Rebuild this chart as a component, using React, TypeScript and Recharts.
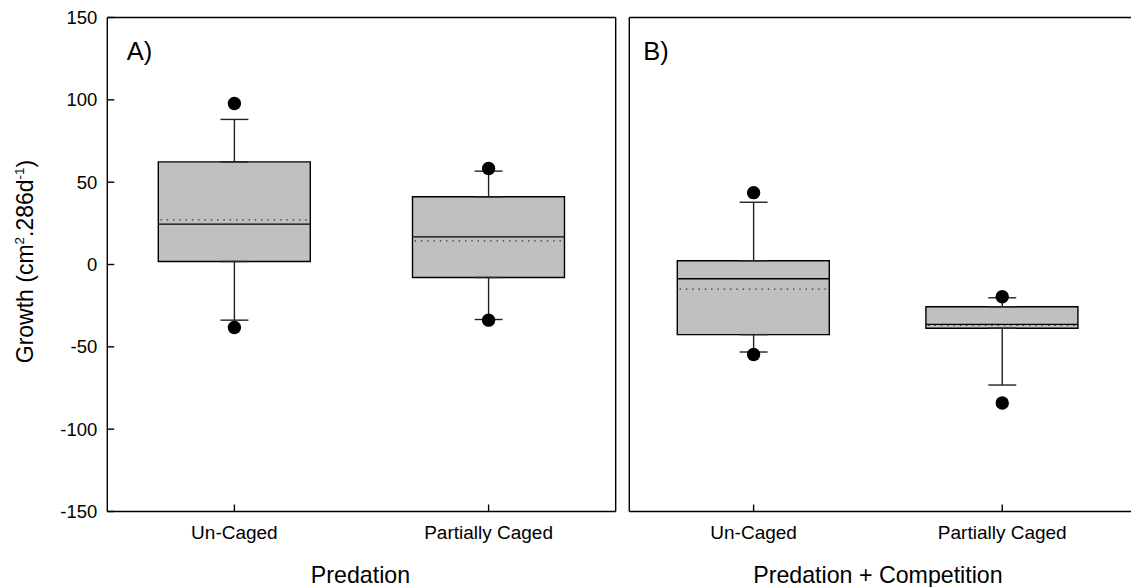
import React from 'react';
import { ComposedChart, Bar, Scatter, ErrorBar, XAxis, YAxis, Label } from 'recharts';

const FONT = '"Liberation Sans", Arial, Helvetica, sans-serif';

// categories
const groups = ['Un-Caged', 'Partially Caged'];
const positions = [1, 2];

// Panel A: Predation (left axis units)
const predQ1 = [1.8, -7.9];
const predQ3 = [62.3, 41.1];
const predMedian = [24.5, 16.8];
const predMean = [27.1, 14.3];
const predWhiskerLow = [-33.8, -33.4];
const predWhiskerHigh = [88.1, 56.7];
const predOutlierLow = [-38.3, -33.8];
const predOutlierHigh = [97.8, 58.3];

// Panel B: Predation + Competition (own unlabeled axis)
const compQ1 = [-49.7, -45.2];
const compQ3 = [2.7, -29.9];
const compMedian = [-10.1, -42.4];
const compMean = [-17.4, -43.1];
const compWhiskerLow = [-62.0, -85.4];
const compWhiskerHigh = [44.1, -23.6];
const compOutlierLow = [-63.8, -98.1];
const compOutlierHigh = [50.9, -22.8];

// tick values
const leftTicks = [-150, -100, -50, 0, 50, 100, 150];
const rightTicks = [-125, -75, -25, 25, 75, 125];

const BOX_W = 152;
const HALF = BOX_W / 2;

function buildRows(q1: number[], q3: number[], med: number[], mean: number[], wl: number[], wh: number[], ol: number[], oh: number[]) {
  return groups.map((g, i) => ({
    name: g,
    pos: positions[i],
    box: [q1[i], q3[i]],
    q1: q1[i],
    q3: q3[i],
    median: med[i],
    mean: mean[i],
    upperErr: [0, wh[i] - q3[i]],
    lowerErr: [q1[i] - wl[i], 0],
    outLow: ol[i],
    outHigh: oh[i],
  }));
}

const predRows = buildRows(predQ1, predQ3, predMedian, predMean, predWhiskerLow, predWhiskerHigh, predOutlierLow, predOutlierHigh);
const compRows = buildRows(compQ1, compQ3, compMedian, compMean, compWhiskerLow, compWhiskerHigh, compOutlierLow, compOutlierHigh);

const emptyShape = () => <g />;
const medianShape = (p: any) => (
  <line x1={p.cx - HALF} x2={p.cx + HALF} y1={p.cy} y2={p.cy} stroke="#000" strokeWidth={1.4} />
);
const meanShape = (p: any) => (
  <line x1={p.cx - HALF + 2} x2={p.cx + HALF} y1={p.cy} y2={p.cy} stroke="#333" strokeWidth={1.3} strokeDasharray="1.4 4.9" />
);
const dotShape = (p: any) => <circle cx={p.cx} cy={p.cy} r={6.7} fill="#000" />;

const yTickText = { fill: '#000', fontSize: 18.5, fontFamily: FONT };
const xTickText = { fill: '#000', fontSize: 19, fontFamily: FONT };

function Panel(props: any) {
  const { rows, width, height, leftW, rightW, topH, bottomH, xDomain, yDomain, yTicks, showYLabels, title, titleDx, letter, letterDx, yLabel } = props;
  const axisStroke = { stroke: '#000', strokeWidth: 1.4 };
  return (
    <ComposedChart width={width} height={height} data={rows} margin={{ top: 0, right: 0, bottom: 0, left: 0 }} style={{ fontFamily: FONT }}>
      <XAxis
        dataKey="pos"
        type="number"
        domain={xDomain}
        ticks={positions}
        interval={0}
        allowDataOverflow
        height={bottomH}
        tickSize={-7}
        tickMargin={21}
        tickFormatter={(v: number) => groups[positions.indexOf(v)] ?? ''}
        tick={xTickText}
        axisLine={axisStroke}
        tickLine={axisStroke}
      >
        <Label
          content={(lp: any) => {
            const vb = lp.viewBox;
            return (
              <text x={vb.x + vb.width / 2 + titleDx} y={vb.y + vb.height - 4} textAnchor="middle" fontSize={23.2} fill="#000" fontFamily={FONT}>
                {title}
              </text>
            );
          }}
        />
      </XAxis>
      <XAxis
        xAxisId="top"
        dataKey="pos"
        type="number"
        orientation="top"
        domain={xDomain}
        ticks={positions}
        interval={0}
        allowDataOverflow
        height={topH}
        tickSize={-7}
        tick={false}
        axisLine={axisStroke}
        tickLine={axisStroke}
      >
        <Label
          content={(lp: any) => {
            const vb = lp.viewBox;
            return (
              <text x={vb.x + letterDx} y={vb.y + vb.height + 42.5} fontSize={25.5} fill="#000" fontFamily={FONT}>
                {letter}
              </text>
            );
          }}
        />
      </XAxis>
      <YAxis
        type="number"
        domain={yDomain}
        ticks={yTicks}
        interval={0}
        allowDataOverflow
        width={leftW}
        tickSize={-7}
        tickMargin={17}
        tick={showYLabels ? yTickText : false}
        axisLine={axisStroke}
        tickLine={axisStroke}
      >
        {yLabel ? (
          <Label
            content={(lp: any) => {
              const vb = lp.viewBox;
              const cx = vb.x + 33;
              const cy = vb.y + vb.height / 2 - 3;
              return (
                <text x={cx} y={cy} transform={`rotate(-90 ${cx} ${cy})`} textAnchor="middle" fontSize={23} fill="#000" fontFamily={FONT}>
                  Growth (cm
                  <tspan dy={-9} fontSize={13.5}>2</tspan>
                  <tspan dy={9}>.286d</tspan>
                  <tspan dy={-9} fontSize={13.5}>-1</tspan>
                  <tspan dy={9}>)</tspan>
                </text>
              );
            }}
          />
        ) : null}
      </YAxis>
      <YAxis
        yAxisId="right"
        orientation="right"
        type="number"
        domain={yDomain}
        ticks={yTicks}
        interval={0}
        allowDataOverflow
        width={rightW}
        tickSize={-7}
        tick={false}
        axisLine={axisStroke}
        tickLine={axisStroke}
      />
      <Scatter dataKey="q3" shape={emptyShape} isAnimationActive={false}>
        <ErrorBar dataKey="upperErr" direction="y" width={14} stroke="#222" strokeWidth={1.4} />
      </Scatter>
      <Scatter dataKey="q1" shape={emptyShape} isAnimationActive={false}>
        <ErrorBar dataKey="lowerErr" direction="y" width={14} stroke="#222" strokeWidth={1.4} />
      </Scatter>
      <Bar dataKey="box" barSize={BOX_W} fill="#c0c0c0" stroke="#000" strokeWidth={1.4} isAnimationActive={false} />
      <Scatter dataKey="mean" shape={meanShape} isAnimationActive={false} />
      <Scatter dataKey="median" shape={medianShape} isAnimationActive={false} />
      <Scatter dataKey="outHigh" shape={dotShape} isAnimationActive={false} />
      <Scatter dataKey="outLow" shape={dotShape} isAnimationActive={false} />
    </ComposedChart>
  );
}

export default function App() {
  return (
    <div style={{ position: 'absolute', left: 0, top: 0, width: 1131, height: 587, overflow: 'hidden', background: '#fff' }}>
      <div style={{ position: 'absolute', left: 0, top: 0 }}>
        <Panel
          rows={predRows}
          width={625.7}
          height={587}
          leftW={107.3}
          rightW={10}
          topH={17.5}
          bottomH={75.5}
          xDomain={[0.5, 2.5]}
          yDomain={[-150, 150]}
          yTicks={leftTicks}
          showYLabels
          title="Predation"
          titleDx={-1}
          letter="A)"
          letterDx={19.4}
          yLabel
        />
      </div>
      <div style={{ position: 'absolute', left: 619, top: 0 }}>
        <Panel
          rows={compRows}
          width={527}
          height={587}
          leftW={10.3}
          rightW={10}
          topH={17.5}
          bottomH={75.5}
          xDomain={[0.5, 2.538]}
          yDomain={[-175, 175]}
          yTicks={rightTicks}
          showYLabels={false}
          title="Predation + Competition"
          titleDx={-4.7}
          letter="B)"
          letterDx={14}
          yLabel={false}
        />
      </div>
    </div>
  );
}
